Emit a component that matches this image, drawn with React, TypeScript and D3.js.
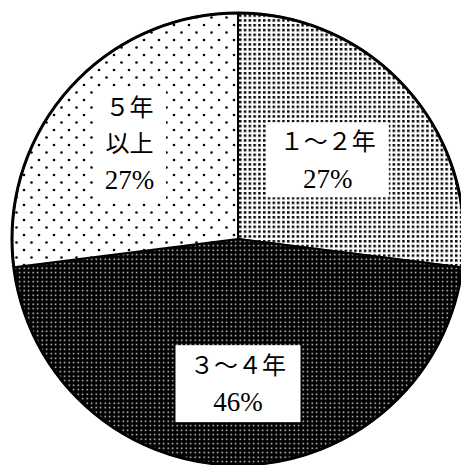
import React, { useEffect, useRef } from "react";
import * as d3 from "d3";

// Years of experience share (%)
const categories = ["1～2年", "3～4年", "5年以上"];
const values = [27, 46, 27];
const labelLines = [["１～２年", "27%"], ["３～４年", "46%"], ["５年", "以上", "27%"]];
const patternIds = ["dots-mid", "dots-dark", "dots-sparse"];

const App = () => {
  const svgRef = useRef<SVGSVGElement | null>(null);
  const width = 461;
  const height = 465;

  useEffect(() => {
    const svg = d3.select(svgRef.current);
    svg.selectAll("*").remove();

    const cx = 238;
    const cy = 239;
    const radius = 226;

    const defs = svg.append("defs");

    // medium dot screen
    const p1 = defs.append("pattern")
      .attr("id", "dots-mid")
      .attr("patternUnits", "userSpaceOnUse")
      .attr("width", 4.8)
      .attr("height", 4.8);
    p1.append("rect").attr("width", 4.8).attr("height", 4.8).attr("fill", "#fff");
    p1.append("rect").attr("x", 1).attr("y", 1).attr("width", 2.5).attr("height", 2.5).attr("fill", "#000");

    // dark screen: black with tiny white dots
    const p2 = defs.append("pattern")
      .attr("id", "dots-dark")
      .attr("patternUnits", "userSpaceOnUse")
      .attr("width", 4.5)
      .attr("height", 4.5);
    p2.append("rect").attr("width", 4.5).attr("height", 4.5).attr("fill", "#000");
    p2.append("rect").attr("x", 1.5).attr("y", 1.5).attr("width", 1.4).attr("height", 1.4).attr("fill", "#fff");

    // sparse staggered dots
    const p3 = defs.append("pattern")
      .attr("id", "dots-sparse")
      .attr("patternUnits", "userSpaceOnUse")
      .attr("width", 15)
      .attr("height", 15);
    p3.append("rect").attr("width", 15).attr("height", 15).attr("fill", "#fff");
    p3.append("circle").attr("cx", 3.5).attr("cy", 3.5).attr("r", 1.3).attr("fill", "#000");
    p3.append("circle").attr("cx", 11).attr("cy", 11).attr("r", 1.3).attr("fill", "#000");

    const data = categories.map((c, i) => ({ name: c, value: values[i], lines: labelLines[i], pat: patternIds[i] }));

    const pie = d3.pie<any>().sort(null).value((d) => d.value);
    const arcs = pie(data);

    const arc = d3.arc<any>().innerRadius(0).outerRadius(radius);

    const g = svg.append("g").attr("transform", `translate(${cx},${cy})`);

    g.selectAll("path.slice")
      .data(arcs)
      .enter()
      .append("path")
      .attr("class", "slice")
      .attr("d", arc)
      .attr("fill", (d) => `url(#${d.data.pat})`)
      .attr("stroke", "#000")
      .attr("stroke-width", 2)
      .attr("stroke-linejoin", "round");

    g.append("circle")
      .attr("r", radius)
      .attr("fill", "none")
      .attr("stroke", "#000")
      .attr("stroke-width", 3);

    // label boxes
    const labelRadius = [0.53, 0.64, 0.64];
    const boxSize = [[122, 75], [125, 77], [73, 112]];
    const lineGap = 36;

    arcs.forEach((a, i) => {
      const la = d3.arc<any>().innerRadius(0).outerRadius(radius * labelRadius[i] * 2);
      const [lx, ly] = la.centroid(a);
      const [bw, bh] = boxSize[i];
      const lg = g.append("g").attr("transform", `translate(${lx},${ly})`);
      lg.append("rect")
        .attr("x", -bw / 2)
        .attr("y", -bh / 2)
        .attr("width", bw)
        .attr("height", bh)
        .attr("fill", "#fff");
      const lines = a.data.lines as string[];
      const n = lines.length;
      lines.forEach((t, j) => {
        const isPct = t.includes("%");
        lg.append("text")
          .attr("x", 0)
          .attr("y", (j - (n - 1) / 2) * lineGap)
          .attr("dy", "0.36em")
          .attr("text-anchor", "middle")
          .attr("font-family", isPct ? "Liberation Serif, DejaVu Serif, serif" : "Noto Sans CJK JP, sans-serif")
          .attr("font-size", isPct ? 27 : 24)
          .attr("fill", "#000")
          .text(t);
      });
    });
  }, []);

  return (
    <svg
      ref={svgRef}
      width={width}
      height={height}
      style={{ position: "absolute", left: 0, top: 0, background: "#fff" }}
    />
  );
};

export default App;
